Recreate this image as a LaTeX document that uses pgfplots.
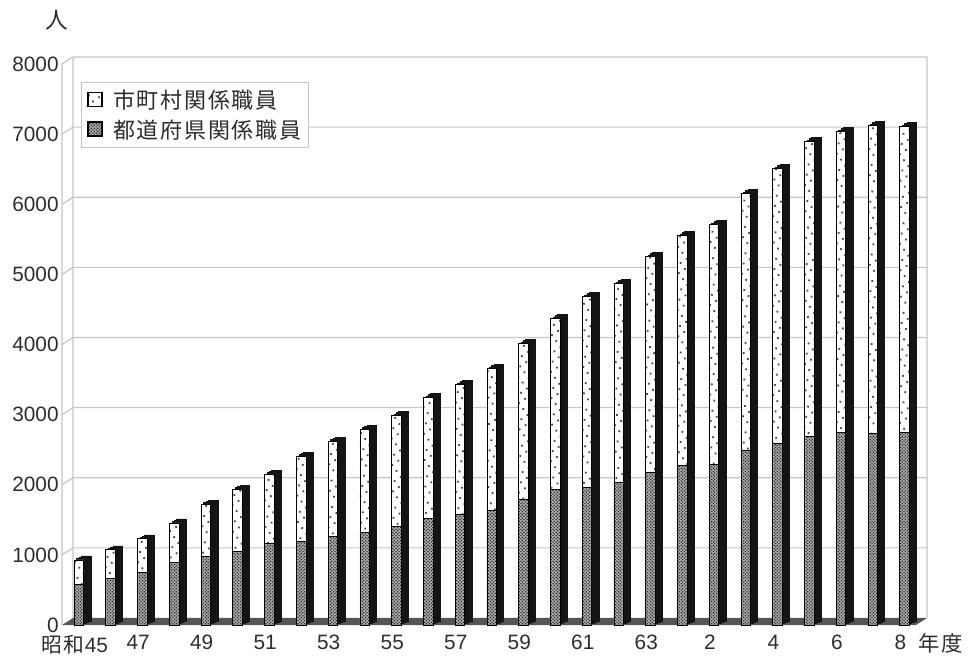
\documentclass[border=0pt]{standalone}
\usepackage{pgfplots}
\usepackage{pgfplotstable}
\usepackage{fontspec}
\pgfplotsset{compat=1.18}
\usetikzlibrary{patterns.meta}
\setmainfont{Liberation Sans}
\newfontfamily\cjk[LetterSpace=8]{Noto Sans CJK JP}
\definecolor{wallgrey}{RGB}{198,198,198}
\definecolor{floorgrey}{RGB}{85,85,85}
\definecolor{textgrey}{RGB}{45,45,45}

% year index, prefecture staff, municipal staff, total
\pgfplotstableread{
i pref city total
0 584 343 927
1 670 400 1070
2 755 472 1227
3 897 558 1455
4 983 742 1725
5 1054 885 1939
6 1168 985 2153
7 1197 1212 2409
8 1268 1355 2623
9 1325 1469 2794
10 1410 1583 2993
11 1524 1725 3249
12 1581 1854 3435
13 1638 2024 3662
14 1795 2224 4019
15 1937 2438 4375
16 1966 2722 4688
17 2037 2836 4873
18 2179 3079 5258
19 2279 3278 5557
20 2293 3421 5714
21 2493 3662 6155
22 2593 3918 6511
23 2692 4204 6896
24 2749 4290 7039
25 2735 4389 7124
26 2749 4361 7110
}\staff

% back wall and left wall, in picture pixels across and units up
\pgfplotstableread{
x y
62 900
73 1000
927 1000
nan nan
62 1900
73 2000
927 2000
nan nan
62 2900
73 3000
927 3000
nan nan
62 3900
73 4000
927 4000
nan nan
62 4900
73 5000
927 5000
nan nan
62 5900
73 6000
927 6000
nan nan
62 6900
73 7000
927 7000
nan nan
62 7900
73 8000
927 8000
927 0
nan nan
73 0
73 8000
nan nan
62 -100
62 7900
}\wall

\pgfplotsset{
  staffaxis/.style={
    scale only axis, width=640.5pt, height=420.75pt,
    anchor=south west, clip=false,
    xmin=-0.535, xmax=26.36, ymin=0, ymax=8000,
  },
  squarekey/.style={
    legend image code/.code={
      \draw[##1, line width=1.1pt] (1.5pt,-4.6pt) rectangle (12pt,5.9pt);
      \path (0pt,0pt) (18pt,0pt);
    },
  },
}

\begin{document}
\begin{tikzpicture}
\path[use as bounding box] (0,0) rectangle (727.5pt,494.25pt);

% walls and floor
\begin{axis}[
  scale only axis, width=640.5pt, height=420.75pt, anchor=south west,
  at={(54.75pt,30.75pt)}, hide axis, clip=false,
  xmin=73, xmax=927, ymin=0, ymax=8000,
]
\addplot[draw=none, fill=floorgrey] coordinates {(62,-100) (73,0) (927,0) (916,-100)} --cycle;
\addplot[wallgrey, line width=0.9pt, unbounded coords=jump] table[x=x, y=y] {\wall};
\end{axis}

% dark side and top of the bars: the same totals, stepped back
\foreach \s in {1,2,3}{
\begin{axis}[
  staffaxis, at={(46.5pt+1.75pt*\s,25.5pt+1pt*\s)}, hide axis,
]
\addplot[ybar, bar width=7.2pt, fill=black!92, draw=black!92] table[x=i, y=total] {\staff};
\end{axis}
}

% front faces, tick labels and legend
\begin{axis}[
  staffaxis, at={(46.5pt,25.5pt)}, ybar stacked, bar width=7.2pt,
  axis line style={draw=none}, major tick length=0pt,
  xtick={0,2,...,26},
  xticklabels={{\cjk 昭和}45,47,49,51,53,55,57,59,61,63,2,4,6,8},
  xticklabel style={xshift=-3.2pt, yshift=-4pt},
  ytick={0,1000,...,8000},
  /pgf/number format/assume math mode=true,
  /pgf/number format/1000 sep={},
  tick label style={font=\fontsize{15.6}{16}\selectfont, text=textgrey},
  yticklabel style={xshift=1pt},
  legend cell align=left,
  reverse legend,
  squarekey,
  legend style={
    at={(0.0222,0.968)}, anchor=north west, draw=wallgrey, line width=0.8pt,
    fill=white, font=\fontsize{16.5}{19}\cjk, text=textgrey,
    inner xsep=3pt, inner ysep=3.5pt, row sep=3pt,
  },
]
\addplot[draw=black, line width=0.7pt, fill=black!30,
  postaction={pattern={Dots[distance=1.7pt,angle=45,radius=0.66pt]}, pattern color=black!85}]
  table[x=i, y=pref] {\staff};
\addlegendentry{都道府県関係職員\hspace{6pt}}
\addplot[draw=black, line width=0.7pt, fill=white,
  postaction={pattern={Dots[distance=5.5pt,angle=35,radius=0.95pt]}, pattern color=black!70}]
  table[x=i, y=city] {\staff};
\addlegendentry{市町村関係職員}
\end{axis}

\node[font=\fontsize{17}{18}\cjk, text=textgrey] at (42.75pt,479.25pt) {人};
\node[font=\fontsize{16}{17}\cjk, text=textgrey] at (705.75pt,12pt) {年度};
\end{tikzpicture}
\end{document}
